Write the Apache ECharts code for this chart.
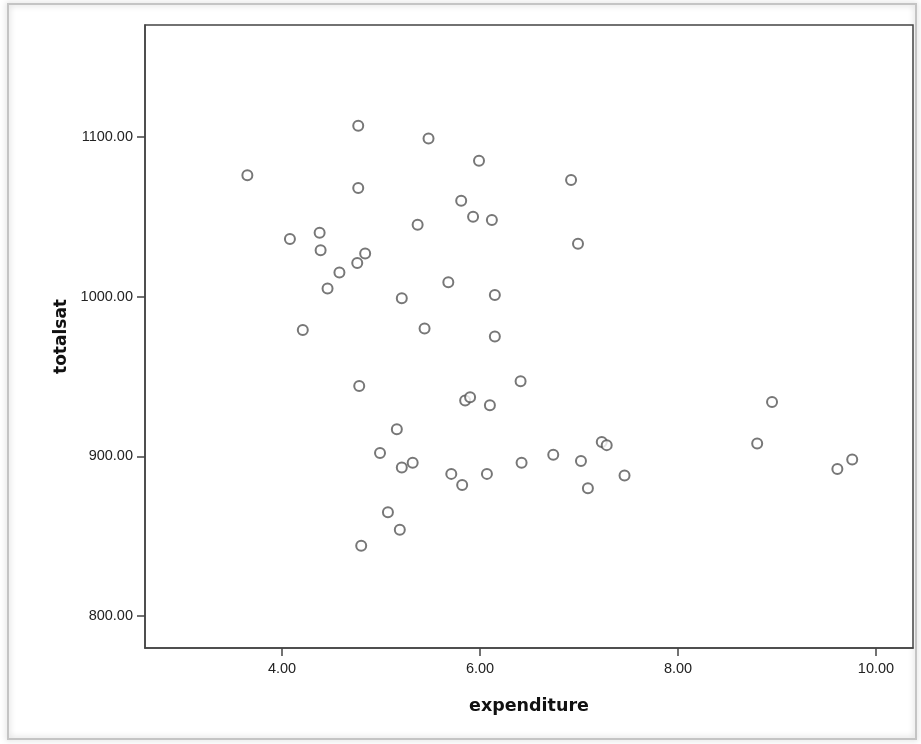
<!DOCTYPE html>
<html>
<head>
<meta charset="utf-8">
<script src="https://cdn.jsdelivr.net/npm/echarts@6/dist/echarts.min.js"></script>
<style>
  html, body { margin: 0; padding: 0; background: #fff; }
  #main { width: 921px; height: 744px; }
</style>
</head>
<body>
<div id="main"></div>
<script>
// expenditure vs totalsat
const expenditure = [
  3.65, 4.77, 5.48, 5.99, 6.92, 4.77, 4.08, 4.38, 4.39, 4.84,
  4.76, 4.58, 4.46, 5.37, 5.81, 5.93, 6.12, 6.99, 5.21, 5.68,
  6.15, 4.21, 5.44, 6.15, 4.78, 6.41, 5.85, 5.90, 6.10, 5.16,
  4.99, 5.21, 5.32, 5.71, 5.82, 6.07, 8.95, 8.80, 9.76, 9.61,
  6.74, 7.02, 7.23, 7.28, 7.46, 7.09, 5.07, 5.19, 4.80, 6.42
];
const totalsat = [
  1076, 1107, 1099, 1085, 1073, 1068, 1036, 1040, 1029, 1027,
  1021, 1015, 1005, 1045, 1060, 1050, 1048, 1033, 999, 1009,
  1001, 979, 980, 975, 944, 947, 935, 937, 932, 917,
  902, 893, 896, 889, 882, 889, 934, 908, 898, 892,
  901, 897, 909, 907, 888, 880, 865, 854, 844, 896
];
const xTicks = [4, 6, 8, 10];
const yTicks = [800, 900, 1000, 1100];

const points = expenditure.map((x, i) => [x, totalsat[i]]);

const chart = echarts.init(document.getElementById('main'));
const fmt = v => Number(v).toFixed(2);

const option = {
  backgroundColor: '#fff',
  animation: false,
  graphic: [
    {
      type: 'rect',
      shape: { x: 8, y: 4, width: 908, height: 735 },
      style: {
        fill: 'transparent',
        stroke: '#c4c4c4',
        lineWidth: 2,
        shadowBlur: 6,
        shadowColor: 'rgba(0,0,0,0.25)'
      },
      z: -10
    }
  ],
  grid: {
    left: 145,
    right: 8,
    top: 25,
    bottom: 96,
    show: true,
    borderColor: '#444',
    borderWidth: 1.5,
    backgroundColor: '#fff'
  },
  xAxis: {
    type: 'value',
    min: 2.616,
    max: 10.374,
    name: 'expenditure',
    nameLocation: 'middle',
    nameGap: 49,
    nameTextStyle: {
      fontFamily: 'DejaVu Sans',
      fontWeight: 'bold',
      fontSize: 17.5,
      color: '#111'
    },
    axisLine: { show: true, onZero: false, lineStyle: { color: '#444', width: 1.5 } },
    axisTick: {
      show: true,
      length: 8,
      customValues: xTicks,
      lineStyle: { color: '#444', width: 1.5 }
    },
    axisLabel: {
      customValues: xTicks,
      formatter: fmt,
      fontFamily: 'Liberation Sans',
      fontSize: 14.5,
      color: '#222',
      margin: 13
    },
    splitLine: { show: false }
  },
  yAxis: {
    type: 'value',
    min: 780,
    max: 1170,
    name: 'totalsat',
    nameLocation: 'middle',
    nameGap: 75,
    nameTextStyle: {
      fontFamily: 'DejaVu Sans',
      fontWeight: 'bold',
      fontSize: 17,
      color: '#111'
    },
    axisLine: { show: true, onZero: false, lineStyle: { color: '#444', width: 1.5 } },
    axisTick: {
      show: true,
      length: 8,
      customValues: yTicks,
      lineStyle: { color: '#444', width: 1.5 }
    },
    axisLabel: {
      customValues: yTicks,
      formatter: fmt,
      fontFamily: 'Liberation Sans',
      fontSize: 14.5,
      color: '#222',
      margin: 12
    },
    splitLine: { show: false }
  },
  series: [
    {
      type: 'scatter',
      data: points,
      symbol: 'emptyCircle',
      symbolSize: 10,
      itemStyle: {
        color: '#555',
        borderColor: '#555',
        borderWidth: 1.6
      }
    }
  ]
};
chart.setOption(option);
</script>
</body>
</html>
